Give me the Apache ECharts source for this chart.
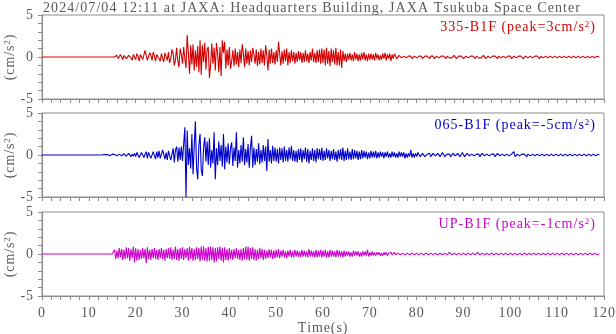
<!DOCTYPE html>
<html>
<head>
<meta charset="utf-8">
<script src="https://cdn.jsdelivr.net/npm/echarts@6/dist/echarts.min.js"></script>
<style>
  html, body { margin: 0; padding: 0; background: #fff; }
  #chart { width: 616px; height: 334px; }
</style>
</head>
<body>
<div id="chart"></div>
<script>
// Acceleration records (cm/s^2), sampled every dt seconds starting at t0.
const t0 = 0;
const dt = 0.25;

const stationTitle = '2024/07/04 12:11 at JAXA: Headquarters Building, JAXA Tsukuba Space Center';
const channelNames = ['335-B1F', '065-B1F', 'UP-B1F'];

const acc335 = [
  0,0,0,0,0,0,0,0,0,0,0,0,0,0,0,0,0,0,0,0,
  0,0,0,0,0,0,0,0,0,0,0,0,0,0,0,0,0,0,0,0,
  0,0,0,0,0,0,0,0,0,0,0,0,0,0,0,0,0,0,0,0,
  0,0,0,0,0.2,-0.2,-0.1,0.3,0.1,-0.3,0.2,0.3,-0.2,-0.3,0.2,0.3,-0.1,-0.4,0.3,0.2,
  -0.3,0.4,0.1,-0.5,0.3,0.4,-0.3,-0.2,0.8,0.2,-0.4,-0.3,0.5,0.2,-0.4,0.6,0.1,-0.5,0.3,0.4,
  -0.2,-0.5,0.4,0.2,-0.6,0.5,0.3,-0.4,0.6,-0.7,-0.2,0.9,0.4,-1.0,-0.3,1.1,-0.5,-1.2,1.0,0.3,
  -0.8,1.2,-0.2,-1.3,2.6,0.5,-2.0,1.4,-0.9,1.5,-1.6,0.8,-1.2,1.3,-1.8,2.0,-2.1,1.4,-0.6,1.7,
  -1.5,0.9,1.2,-2.5,-1.0,1.6,-0.8,1.1,-1.6,1.7,0.4,-1.8,1.2,-2.3,2.0,0.5,1.8,-1.4,0.9,-1.0,
  1.2,-1.4,-0.5,0.8,-1.1,1.0,-0.9,0.6,-1.2,0.9,-0.7,1.5,0.4,-1.2,1.0,-0.8,0.7,-1.0,0.8,-0.6,
  1.1,0.3,-0.8,0.9,-1.1,0.6,-0.9,1.0,-0.7,0.8,-1.0,1.4,0.2,-1.6,0.9,-0.8,1.0,-0.7,0.6,-0.9,
  0.8,-0.6,1.8,0.4,-1.0,0.7,-0.8,0.9,-0.5,1.0,-1.0,0.6,-0.7,0.8,-0.5,0.6,-0.8,0.5,-0.6,0.7,
  -0.4,0.6,-0.7,0.5,-0.6,0.8,-0.5,0.4,-0.7,0.6,-0.4,1.0,-0.6,0.5,-0.7,0.8,-0.6,0.9,-0.8,1.0,
  -0.7,0.9,-1.0,1.1,-0.8,0.7,-1.1,1.0,-0.6,0.8,-0.9,1.1,-1.0,0.6,-1.0,0.9,-1.3,0.7,-0.5,0.4,
  -0.6,0.4,-0.3,0.5,-0.4,0.3,-0.5,0.6,-0.3,0.4,-0.5,0.3,-0.4,0.5,-0.3,0.6,-0.4,0.3,-0.5,0.4,
  -0.3,0.4,-0.3,0.3,-0.4,0.5,-0.2,0.3,-0.4,0.2,-0.3,0.4,-0.2,0.5,-0.4,0.3,-0.2,0.4,-0.5,0.3,
  -0.2,0.4,0.3,-0.2,-0.3,0.2,0.3,-0.1,-0.2,0.1,0.2,-0.1,-0.2,0.1,0.3,0.1,-0.2,-0.2,0.1,0.2,
  -0.1,-0.2,0.1,0.2,0.1,-0.2,-0.2,0.1,0.2,0.1,-0.1,-0.2,0.1,0.3,0.1,-0.2,-0.2,0.1,0.2,-0.1,
  -0.2,0.1,0.2,0.1,-0.1,-0.2,0.1,0.2,-0.1,-0.2,-0.1,0.1,0.2,0.1,-0.2,-0.1,0.1,0.2,0.1,-0.1,
  -0.2,-0.1,0.1,0.2,-0.1,-0.2,0.1,0.2,0.1,-0.1,-0.2,0.1,0.2,-0.1,-0.2,-0.1,0.1,0.2,0.1,-0.2,
  -0.1,0.1,0.2,-0.1,-0.2,0.1,0.2,0.1,-0.1,-0.2,0.1,0.1,-0.1,-0.2,0.1,0.2,-0.1,-0.1,0.1,0.2,
  0.1,-0.2,-0.1,0.1,0.2,-0.1,-0.2,0.1,0.2,0.1,-0.1,-0.2,-0.1,0.1,0.2,-0.1,-0.1,0.1,0.1,-0.1,
  -0.2,0.1,0.2,0.1,-0.1,-0.2,0.1,0.2,-0.1,-0.1,0.1,0.1,-0.1,-0.2,0.1,0.1,-0.1,-0.1,0.1,0.2,
  -0.1,-0.1,0.1,0.1,-0.1,-0.2,0.1,0.1,-0.1,-0.1,0.1,0.1,-0.1,-0.1,0.1,0.2,-0.1,-0.1,0.1,0.1,
  -0.1,-0.1,0.1,0.1,-0.1,-0.1,0.1,0.1,-0.1,-0.1,0.1,0.1,-0.1,-0.1,0.1,0.1,0
];

const acc065 = [
  0,0,0,0,0,0,0,0,0,0,0,0,0,0,0,0,0,0,0,0,
  0,0,0,0,0,0,0,0,0,0,0,0,0,0,0,0,0,0,0,0,
  0,0,0,0,0,0,0,0,0,0,0,0,0.03,-0.03,0.05,-0.05,0.05,0.05,-0.08,0.05,
  0.1,-0.1,0.05,0.1,-0.1,-0.05,0.1,0.1,-0.1,-0.1,0.15,0.1,-0.15,-0.1,0.2,0.1,-0.2,0.1,-0.15,0.2,
  -0.2,0.3,0.1,-0.3,-0.2,0.3,0.4,-0.3,-0.2,0.4,-0.4,0.3,0.5,-0.4,-0.3,0.4,0.3,-0.5,0.4,-0.3,
  0.5,-0.4,-0.3,0.6,0.4,-0.5,0.3,-0.6,0.5,0.7,-0.6,-0.4,0.8,-0.9,0.6,1.0,-0.8,0.9,-0.6,1.0,
  -0.7,-0.9,3.3,-5.0,2.9,-1.2,0.8,-1.6,2.5,-2.3,1.0,4.0,-1.5,-2.9,1.2,2.5,-1.8,-2.5,0.9,2.1,
  -0.8,1.6,-1.2,2.0,-1.5,0.6,-1.0,2.7,-2.9,0.8,-1.2,1.6,-0.7,1.2,-1.4,2.5,-1.7,1.0,-0.9,1.4,
  -1.1,0.8,1.5,-1.3,0.9,-0.7,2.7,-1.5,0.6,-1.0,1.2,-0.8,2.1,-1.2,0.7,-0.9,1.3,-1.5,0.8,2.3,
  -1.5,0.9,-1.2,0.7,-0.8,1.4,-1.1,0.6,-0.9,1.2,-0.7,1.0,-1.9,1.9,-0.8,0.6,-1.0,1.1,-0.7,0.9,
  -0.8,0.7,-1.0,0.9,-0.6,0.8,-0.9,1.0,-0.7,0.6,-0.8,0.9,-0.5,1.1,-0.7,0.6,-0.8,0.5,-0.9,0.7,
  -0.6,0.8,-0.9,0.6,-0.5,0.9,-0.8,0.7,-1.0,0.5,-0.6,0.8,-0.7,0.6,-0.9,0.8,-0.5,0.7,-0.6,0.9,
  -0.7,0.5,-0.6,0.8,-0.4,0.6,-0.7,0.5,-0.5,0.7,-0.6,0.4,-0.8,0.6,-0.5,0.7,-0.6,0.9,-0.7,0.5,
  -0.6,0.8,-0.5,0.4,-0.6,0.7,-0.5,0.6,-0.4,0.5,-0.6,0.4,-0.5,0.6,-0.4,0.5,-0.3,0.4,-0.5,0.3,
  -0.4,0.5,-0.3,0.4,-0.3,0.5,-0.4,0.3,-0.3,0.4,-0.2,0.3,-0.4,0.3,-0.2,0.4,-0.3,0.2,-0.3,0.4,
  -0.2,0.3,-0.3,0.2,-0.3,0.4,-0.2,0.3,-0.2,0.3,-0.4,0.2,-0.3,0.2,-0.2,0.6,-0.3,0.2,-0.3,0.2,
  -0.2,0.3,0.2,-0.2,-0.3,0.2,0.3,-0.2,-0.3,0.1,0.3,0.2,-0.2,-0.3,0.2,0.3,-0.1,-0.3,0.2,0.2,
  -0.2,-0.2,0.3,0.2,-0.2,-0.3,0.1,0.3,0.1,-0.2,-0.3,0.2,0.3,-0.1,-0.2,0.2,0.2,-0.2,-0.2,0.3,
  0.1,-0.2,-0.2,0.2,0.2,-0.1,-0.2,0.1,0.2,-0.1,-0.2,0.1,0.2,0.1,-0.2,-0.1,0.2,0.1,-0.1,-0.2,
  0.1,0.2,-0.1,-0.2,0.1,0.3,0.1,-0.2,-0.2,0.2,0.3,-0.1,-0.2,0.1,0.2,-0.1,-0.2,0.1,0.1,-0.1,
  -0.2,0.1,0.2,0.4,-0.2,-0.2,0.1,0.2,-0.1,-0.2,0.1,0.2,0.1,-0.1,-0.2,0.1,0.1,-0.1,-0.1,0.1,
  0.2,-0.1,-0.2,0.1,0.1,-0.1,-0.1,0.1,0.2,-0.1,-0.1,0.1,0.1,-0.1,-0.2,0.1,0.1,-0.1,-0.1,0.1,
  0.1,-0.1,-0.1,0.1,0.2,-0.1,-0.1,0.1,0.1,-0.1,-0.1,0.1,0.1,-0.1,-0.2,0.1,0.2,-0.1,-0.1,0.1,
  0.1,-0.1,-0.1,0.1,0.1,-0.1,-0.1,0.1,0.2,-0.1,-0.1,0.1,0.1,-0.1,-0.1,0.1,0
];

const accUP = [
  0,0,0,0,0,0,0,0,0,0,0,0,0,0,0,0,0,0,0,0,
  0,0,0,0,0,0,0,0,0,0,0,0,0,0,0,0,0,0,0,0,
  0,0,0,0,0,0,0,0,0,0,0,0,0,0,0,0,0,0,0,0,
  0,0.1,0.5,-0.6,0.4,-0.5,0.7,-0.4,0.6,-0.7,0.5,-0.6,0.8,-0.5,0.7,-0.8,0.6,-0.5,0.9,-1.0,
  0.7,-0.8,0.6,-0.7,0.5,-0.6,0.7,-0.5,0.6,-1.1,0.8,-0.6,0.5,-0.7,0.6,-0.5,0.7,-0.6,0.5,-0.7,
  0.6,-0.5,0.7,-0.6,0.5,-0.8,0.6,-0.5,0.7,-0.6,0.8,-0.7,0.5,-0.6,0.9,-0.7,0.6,-0.8,0.7,-0.6,
  0.8,-0.7,0.6,-0.5,0.7,-0.8,0.9,-0.6,0.7,-0.8,0.6,-0.7,0.8,-0.6,0.7,-0.9,0.9,-0.7,0.9,-0.8,
  0.7,-0.9,0.9,-0.8,0.9,-0.7,0.8,-1.0,0.7,-0.9,0.8,-0.6,0.9,-0.8,0.7,-1.0,0.8,-0.7,0.6,-0.8,
  0.7,-0.6,0.5,-0.7,0.6,-0.5,0.7,-0.6,0.5,-0.7,0.6,-0.8,0.7,-0.6,0.9,-0.7,0.9,-0.8,0.7,-0.6,
  0.8,-0.7,0.6,-0.8,0.5,-0.6,0.7,-0.5,0.6,-0.7,0.5,-0.6,0.4,-0.5,0.6,-0.4,0.5,-0.6,0.4,-0.5,
  0.5,-0.4,0.6,-0.5,0.4,-0.3,0.5,-0.4,0.3,-0.5,0.4,-0.3,0.5,-0.4,0.3,-0.4,0.5,-0.3,0.4,-0.3,
  0.3,-0.4,0.5,-0.3,0.4,-0.3,0.3,-0.4,0.6,-0.3,0.4,-0.3,0.3,-0.4,0.5,-0.4,0.4,-0.3,0.5,-0.4,
  0.4,-0.3,0.5,-0.4,0.3,-0.4,0.5,-0.3,0.4,-0.3,0.3,-0.4,0.5,-0.3,0.4,-0.3,0.3,-0.4,0.4,-0.3,
  0.3,-0.2,0.3,-0.3,0.2,-0.3,0.4,-0.2,0.3,-0.2,0.3,-0.3,0.2,-0.3,0.3,-0.2,0.3,-0.2,0.5,-0.3,
  0.2,-0.2,0.3,-0.2,0.2,-0.2,0.2,-0.1,0.2,-0.2,0.1,-0.2,0.2,-0.1,0.2,-0.2,0.1,-0.1,0.2,-0.1,
  0.1,0.2,-0.1,-0.2,0.1,0.1,-0.1,-0.2,0.1,0.2,-0.1,-0.1,0.1,0.1,-0.1,-0.1,0.1,0.2,-0.1,-0.1,
  0.1,0.1,-0.1,-0.1,0.1,0.2,-0.1,-0.1,0.1,0.1,-0.1,-0.1,0.1,0.1,-0.1,-0.2,0.1,0.1,-0.1,-0.1,
  0.1,0.1,-0.1,-0.1,0.1,0.1,-0.1,-0.1,0.2,0.1,-0.1,-0.1,0.1,0.1,-0.1,-0.1,0.1,0.1,-0.1,-0.1,
  0.1,0.1,-0.1,-0.1,0.1,0.1,-0.1,-0.1,0.1,0.1,-0.1,-0.1,0.2,0.2,-0.1,-0.2,0.1,0.1,-0.1,-0.1,
  0.1,0.1,-0.1,-0.1,0.1,0.1,-0.1,-0.1,0.1,0.1,-0.1,-0.1,0.1,0.1,-0.1,-0.1,0.1,0.1,-0.1,-0.1,
  0.1,0.1,-0.1,-0.1,0.1,0.2,-0.1,-0.2,0.1,0.1,-0.1,-0.1,0.1,0.1,-0.1,-0.1,0.1,0.1,-0.1,-0.1,
  0.1,0.1,-0.1,-0.1,0.1,0.1,-0.1,-0.1,0.1,0.2,-0.1,-0.1,0.1,0.1,-0.1,-0.1,0.1,0.1,-0.1,-0.1,
  0.1,0.1,-0.1,-0.1,0.1,0.1,-0.1,-0.1,0.1,0.1,-0.1,-0.1,0.1,0.1,-0.1,-0.1,0.1,0.1,-0.1,-0.1,
  0.1,0.1,-0.1,-0.1,0.1,0.1,-0.1,-0.1,0.1,0.1,-0.1,-0.1,0.1,0.1,-0.1,-0.1,0
];

const records = [acc335, acc065, accUP];

// ---- presentation ----
const FONT = 'Liberation Serif';
const FONT_SIZE = 14;
const lineColors = ['#d40000', '#0000cc', '#cc00cc'];
const axisGray = '#8c8c8c';
const textGray = '#5a5a5a';
const panelTops = [15, 113, 212];
const panelHeight = 84;

function toPairs(values) {
  return values.map((v, i) => [t0 + i * dt, v]);
}
function peakOf(values) {
  let p = 0;
  values.forEach(v => { if (Math.abs(v) > Math.abs(p)) p = v; });
  return Math.round(p);
}
// Wrap each character in its own rich-text run so the text is tracked out slightly.
function spaced(str) {
  return str.split('').map(c => '{s|' + c + '}').join('');
}
function richStyles(color, track) {
  return {
    s: { fontFamily: FONT, fontSize: FONT_SIZE, color: color, padding: [0, track, 0, 0] },
    sup: { fontFamily: FONT, fontSize: 9, color: color, verticalAlign: 'top', padding: [0, track, 6, 0] }
  };
}
const unitText = spaced('(cm/s') + '{sup|2}' + spaced(')');

const chart = echarts.init(document.getElementById('chart'), null, { renderer: 'canvas' });

const grids = [], xAxes = [], yAxes = [], series = [], titles = [];

titles.push({
  text: spaced(stationTitle),
  left: 38, top: -4,
  textStyle: { fontFamily: FONT, fontSize: FONT_SIZE, fontWeight: 'normal', color: textGray,
    rich: richStyles(textGray, 1.07) }
});

records.forEach((rec, i) => {
  const last = i === records.length - 1;
  grids.push({
    left: 42, right: 12, top: panelTops[i], height: panelHeight,
    outerBoundsMode: 'none', containLabel: false,
    show: true, borderColor: axisGray, borderWidth: 1, backgroundColor: 'transparent'
  });
  xAxes.push({
    type: 'value', gridIndex: i, min: 0, max: 120, interval: 10,
    axisLine: { show: true, onZero: false, lineStyle: { color: axisGray } },
    axisTick: { show: true, length: 4, lineStyle: { color: axisGray } },
    minorTick: { show: true, splitNumber: 5, length: 4, lineStyle: { color: axisGray } },
    splitLine: { show: false },
    axisLabel: { show: last, margin: 10, formatter: v => spaced(String(v)),
      rich: richStyles(textGray, 0.9) },
    name: last ? spaced('Time(s)') : '',
    nameLocation: 'middle', nameGap: 23,
    nameTextStyle: { rich: richStyles(textGray, 0.9) }
  });
  yAxes.push({
    type: 'value', gridIndex: i, min: -5, max: 5, interval: 5,
    axisLine: { show: true, onZero: false, lineStyle: { color: axisGray } },
    axisTick: { show: true, length: 4, lineStyle: { color: axisGray } },
    minorTick: { show: true, splitNumber: 5, length: 4, lineStyle: { color: axisGray } },
    splitLine: { show: false },
    axisLabel: { margin: 8, formatter: v => spaced(String(v)), rich: richStyles(textGray, 0.9) },
    name: unitText,
    nameLocation: 'middle', nameRotate: 90, nameGap: 24, nameMoveOverlap: false,
    nameTextStyle: { rich: richStyles(textGray, 0.9) }
  });
  series.push({
    type: 'line', xAxisIndex: i, yAxisIndex: i,
    data: toPairs(rec),
    showSymbol: false, symbol: 'none', sampling: null,
    lineStyle: { width: 1.1, color: lineColors[i] },
    silent: true, animation: false
  });
  titles.push({
    text: spaced(channelNames[i] + ' (peak=' + peakOf(rec) + 'cm/s') + '{sup|2}' + spaced(')'),
    right: 16, top: panelTops[i],
    textStyle: { fontFamily: FONT, fontSize: FONT_SIZE, fontWeight: 'normal', color: lineColors[i],
      rich: richStyles(lineColors[i], 1.0) }
  });
});

chart.setOption({
  animation: false,
  backgroundColor: '#fff',
  title: titles,
  grid: grids,
  xAxis: xAxes,
  yAxis: yAxes,
  series: series
});
</script>
</body>
</html>
